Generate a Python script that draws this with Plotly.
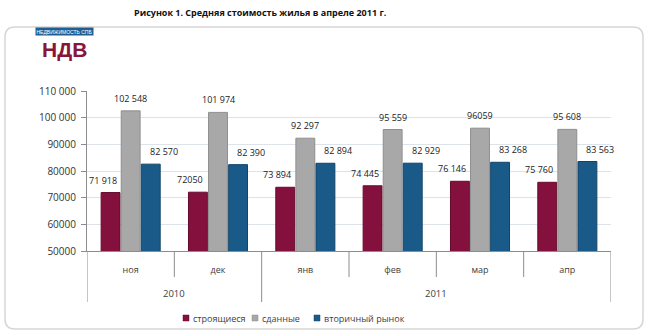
import plotly.graph_objects as go

# Average housing prices, rub per sq. m
months = ["ноя", "дек", "янв", "фев", "мар", "апр"]
years = ["2010", "2010", "2011", "2011", "2011", "2011"]
series_names = ["строящиеся", "сданные", "вторичный рынок"]
stroyashchiesya = [71918, 72050, 73894, 74445, 76146, 75760]
sdannye = [102548, 101974, 92297, 95559, 96059, 95608]
vtorichny = [82570, 82390, 82894, 82929, 83268, 83563]
labels_stroy = ["71 918", "72050", "73 894", "74 445", "76 146", "75 760"]
labels_sdan = ["102 548", "101 974", "92 297", "95 559", "96059", "95 608"]
labels_vtor = ["82 570", "82 390", "82 894", "82 929", "83 268", "83 563"]
y_ticks = [50000, 60000, 70000, 80000, 90000, 100000, 110000]
y_tick_text = ["50000", "60000", "70000", "80000", "90000", "100 000", "110 000"]

colors = ["#84113d", "#a8a8a8", "#1a5a88"]
edge_colors = ["#640b2c", "#8e8e8e", "#124468"]

W, H = 650, 336
ML, MR, MT, MB = 87, 39, 91, 85
PW, PH = W - ML - MR, H - MT - MB

def px(x):
    return (x - ML) / PW

def py(y):
    return (H - MB - y) / PH

FONT = "Open Sans, Liberation Sans, sans-serif"
TXT = "#404040"

fig = go.Figure()
values = [stroyashchiesya, sdannye, vtorichny]
texts = [labels_stroy, labels_sdan, labels_vtor]
for name, vals, c, ec in zip(series_names, values, colors, edge_colors):
    fig.add_trace(go.Bar(
        x=months, y=vals, name=name, showlegend=False,
        marker=dict(color=c, line=dict(color=ec, width=1)),
        hoverinfo="skip",
    ))

annotations = []
# value labels above each bar
slot = (1 - 0.31) / 3
label_shift = [-8, 0, 13]
for s, (vals, labs) in enumerate(zip(values, texts)):
    for i, (v, t) in enumerate(zip(vals, labs)):
        annotations.append(dict(
            x=i + (s - 1) * slot, y=v, xref="x", yref="y", text=t,
            showarrow=False, yanchor="bottom", xshift=label_shift[s], yshift=4,
            font=dict(family=FONT, size=9, color="#222222"),
        ))

# year labels under the month labels
year_groups = []
for i, yv in enumerate(years):
    if year_groups and year_groups[-1][0] == yv:
        year_groups[-1][2] = i
    else:
        year_groups.append([yv, i, i])
for yv, a, b in year_groups:
    annotations.append(dict(
        x=(a + b) / 2, y=py(293), xref="x", yref="paper", text=yv,
        showarrow=False, yanchor="middle",
        font=dict(family=FONT, size=9.5, color=TXT),
    ))

# title
annotations.append(dict(
    x=px(260), y=py(12), xref="paper", yref="paper",
    text="<b>Рисунок 1. Средняя стоимость жилья в апреле 2011 г.</b>",
    showarrow=False, xanchor="center", yanchor="middle",
    font=dict(family=FONT, size=9, color="#111111"),
))

# logo: blue strip with the caption, then the letters
annotations.append(dict(
    x=px(35), y=py(31), xref="paper", yref="paper", text="НЕДВИЖИМОСТЬ СПБ",
    showarrow=False, bgcolor="#1f5f93", borderpad=0.5, yanchor="middle",
    font=dict(family="Liberation Sans", size=5, color="white"),
))
annotations.append(dict(
    x=px(41), y=py(50), xref="paper", yref="paper", text="<b>НДВ</b>",
    showarrow=False, yanchor="middle", borderpad=0,
    font=dict(family="Liberation Sans", size=21, color="#8a1538"),
))

shapes = []
# rounded frame
x0, y0, x1, y1, r = px(5), py(27), px(643), py(329), 10
rx, ry = r / PW, r / PH
shapes.append(dict(
    type="path", xref="paper", yref="paper", layer="below",
    path=(f"M {x0+rx},{y0} L {x1-rx},{y0} Q {x1},{y0} {x1},{y0-ry} "
          f"L {x1},{y1+ry} Q {x1},{y1} {x1-rx},{y1} L {x0+rx},{y1} "
          f"Q {x0},{y1} {x0},{y1+ry} L {x0},{y0-ry} Q {x0},{y0} {x0+rx},{y0} Z"),
    line=dict(color="#d6d6d6", width=1.5), fillcolor="white",
))

# category separators below the axis
for k in range(len(months) + 1):
    bx = k - 0.5
    edge = k == 0 or k == len(months) or years[k - 1] != years[k]
    shapes.append(dict(
        type="line", xref="x", yref="paper", x0=bx, x1=bx,
        y0=0, y1=py(302) if edge else py(277),
        line=dict(color="#8c8c8c", width=1),
    ))

# legend: small swatches followed by the series name
legend_x = [183, 252, 314]
for name, c, ec, lx in zip(series_names, colors, edge_colors, legend_x):
    shapes.append(dict(type="rect", xref="paper", yref="paper",
                       x0=px(lx), x1=px(lx + 6), y0=py(321), y1=py(315),
                       fillcolor=c, line=dict(color=ec, width=0.5)))
    annotations.append(dict(
        x=px(lx + 8), y=py(318), xref="paper", yref="paper", text=name,
        showarrow=False, xanchor="left", yanchor="middle",
        font=dict(family=FONT, size=9, color=TXT),
    ))

fig.update_layout(
    width=W, height=H,
    margin=dict(l=ML, r=MR, t=MT, b=MB, autoexpand=False),
    paper_bgcolor="white", plot_bgcolor="white",
    barmode="group", bargap=0.31, bargroupgap=0.06,
    showlegend=False,
    annotations=annotations, shapes=shapes,
    xaxis=dict(type="category", showline=True, linecolor="#8c8c8c",
               ticks="", showgrid=False, range=[-0.5, len(months) - 0.5],
               automargin=False,
               tickfont=dict(family=FONT, size=9, color=TXT), ticklabelstandoff=10),
    yaxis=dict(range=[50000, 110000], tickvals=y_ticks, ticktext=y_tick_text,
               showline=True, linecolor="#8c8c8c", ticks="outside", ticklen=5,
               tickcolor="#8c8c8c", gridcolor="#dde3ea", zeroline=False,
               automargin=False, ticklabelstandoff=3,
               tickfont=dict(family=FONT, size=10, color="#333333")),
)

fig.write_html("out.html")
